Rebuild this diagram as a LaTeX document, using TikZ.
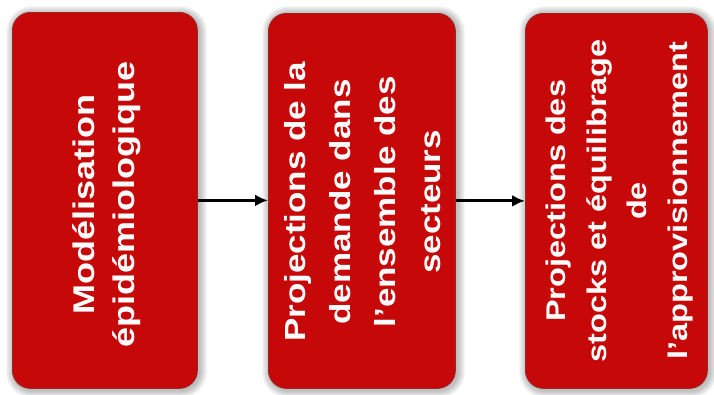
\documentclass[tikz,border=0pt]{standalone}
\usepackage{fontspec}
\setmainfont{Liberation Sans}
\usepackage{graphicx}
\usetikzlibrary{arrows.meta}
\definecolor{boxred}{RGB}{198,8,8}
\definecolor{boxedge}{RGB}{150,40,40}
\begin{document}
\begin{tikzpicture}[x=1pt,y=-1pt,
  box/.style={draw=boxedge, line width=0.8pt, fill=boxred, rounded corners=18pt},
  txt/.style={text=white, font=\bfseries, inner sep=0pt},
  arr/.style={line width=3pt, -{Latex[length=13pt,width=12pt]}}]
\useasboundingbox (0,0) rectangle (714,394);
% soft shadows
\foreach \xa/\xb in {12/197, 268/455, 525/707} {
  \foreach \i in {1,...,8} {
    \pgfmathsetmacro\rr{18+\i}
    \fill[black, opacity=0.035, rounded corners=\rr pt]
      (\xa+2-\i, 12+2-\i) rectangle (\xb+2+\i, 388+2+\i);
  }
}
\node[box, minimum width=185pt, minimum height=376pt, anchor=north west] (b1) at (12,12) {};
\node[box, minimum width=187pt, minimum height=375pt, anchor=north west] (b2) at (268,13) {};
\node[box, minimum width=182pt, minimum height=375pt, anchor=north west] (b3) at (525,13) {};
\node[txt] (t1) at ([shift={(2,4)}]b1.center) {\rotatebox{90}{\scalebox{1}[0.83]{\fontsize{36}{48}\selectfont\begin{tabular}{@{}c@{}}Modélisation\\épidémiologique\end{tabular}}}};
\node[txt] (t2) at ([shift={(2,1)}]b2.center) {\rotatebox{90}{\scalebox{1}[0.83]{\fontsize{35}{54}\selectfont\begin{tabular}{@{}c@{}}Projections de la\\demande dans\\l’ensemble des\\secteurs\end{tabular}}}};
\node[txt] (t3) at ([shift={(2,0)}]b3.center) {\rotatebox{90}{\scalebox{1}[0.83]{\fontsize{32.5}{49}\selectfont\begin{tabular}{@{}c@{}}Projections des\\stocks et équilibrage\\de\\l’approvisionnement\end{tabular}}}};
\draw[arr] (b1.east) -- (b1.east -| b2.west);
\draw[arr] (b2.east) -- (b2.east -| b3.west);
\end{tikzpicture}
\end{document}
